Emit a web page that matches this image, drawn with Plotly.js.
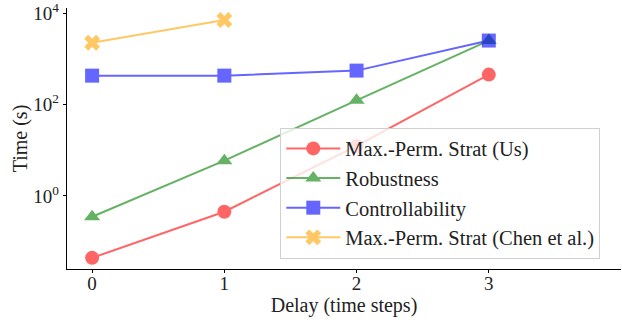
<!DOCTYPE html>
<html><head><meta charset="utf-8">
<script src="https://cdn.plot.ly/plotly-3.0.1.min.js"></script>
<style>html,body{margin:0;padding:0;background:#fff}#c{width:622px;height:323px}</style>
</head><body><div id="c"></div>
<script>
const delays = [0, 1, 2, 3];
const delaysChen = [0, 1];
const usTimes = [0.044, 0.45, 12.4, 450];
const robustTimes = [0.35, 5.9, 123, 2500];
const controlTimes = [427, 427, 550, 2500];
const chenTimes = [2240, 7050];
const seriesNames = ["Max.-Perm. Strat (Us)", "Robustness", "Controllability", "Max.-Perm. Strat (Chen et al.)"];
const xTickVals = [0, 1, 2, 3];
const yTickVals = [1, 100, 10000];
const yTickText = ["10<sup>0</sup>", "10<sup>2</sup>", "10<sup>4</sup>"];

function tr(x, y, name, color, symbol, size) {
  return {x: x, y: y, name: name, type: 'scatter', mode: 'lines+markers',
    line: {color: color, width: 2}, opacity: 0.6,
    marker: {color: color, symbol: symbol, size: size, line: {width: 0}}};
}
const data = [
  tr(delays, usTimes, seriesNames[0], 'red', 'circle', 14),
  tr(delays, robustTimes, seriesNames[1], 'green', 'triangle-up', 14),
  tr(delays, controlTimes, seriesNames[2], 'blue', 'square', 14),
  tr(delaysChen, chenTimes, seriesNames[3], 'orange', 'x', 14)
];
const FAM = 'Liberation Serif';
function f(s) { return {family: FAM, size: s, color: '#222'}; }
const layout = {
  width: 622, height: 323,
  margin: {l: 67, r: 1, t: 8, b: 54},
  paper_bgcolor: '#fff', plot_bgcolor: '#fff',
  font: f(18),
  showlegend: true,
  legend: {x: 0.385, y: 0.04, xanchor: 'left', yanchor: 'bottom',
    bgcolor: 'rgba(255,255,255,0.8)', bordercolor: '#d0d0d0', borderwidth: 1,
    font: f(20.5), tracegroupgap: 0, itemwidth: 54},
  xaxis: {range: [-0.19, 4.0], tickvals: xTickVals, ticks: 'outside', ticklen: 3,
    tickcolor: '#000', showline: true, linecolor: '#000', linewidth: 1.2,
    showgrid: false, zeroline: false, tickfont: f(19), ticklabeloverflow: 'allow',
    ticklabelstandoff: -6,
    title: {text: 'Delay (time steps)', font: f(20), standoff: 0}},
  yaxis: {type: 'log', range: [-1.6, 4.11], tickvals: yTickVals, ticktext: yTickText,
    ticks: 'outside', ticklen: 3, tickcolor: '#000', showline: true, linecolor: '#000',
    linewidth: 1.2, showgrid: false, zeroline: false, tickfont: f(19), ticklabeloverflow: 'allow',
    title: {text: 'Time (s)', font: f(20), standoff: 0}}
};
Plotly.newPlot('c', data, layout, {displayModeBar: false, staticPlot: true});
</script></body></html>
